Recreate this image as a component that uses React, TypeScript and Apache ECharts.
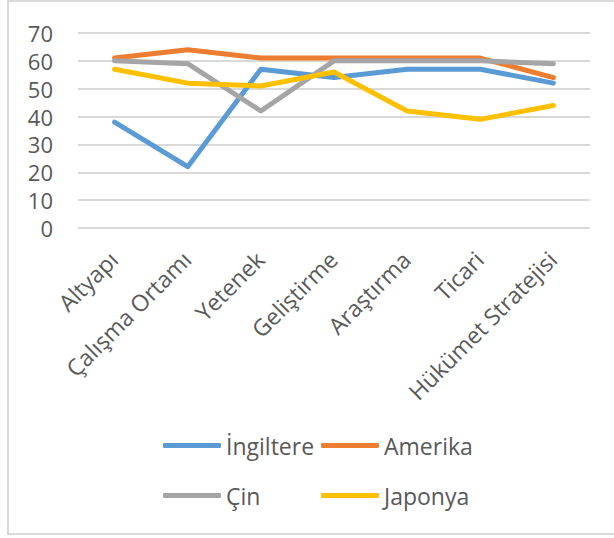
import React, { useEffect, useRef } from "react";
import * as echarts from "echarts";

const categories = ["Altyapı", "Çalışma Ortamı", "Yetenek", "Geliştirme", "Araştırma", "Ticari", "Hükümet Stratejisi"];
const seriesNames = ["İngiltere", "Amerika", "Çin", "Japonya"];
const ingiltere = [38, 22, 57, 54, 57, 57, 52];
const amerika = [61, 64, 61, 61, 61, 61, 54];
const cin = [60, 59, 42, 60, 60, 60, 59];
const japonya = [57, 52, 51, 56, 42, 39, 44];
const colors = ["#5B9BD5", "#ED7D31", "#A5A5A5", "#FFC000"];
const yTicks = [0, 70, 10];

export default function App() {
  const ref = useRef<HTMLDivElement>(null);
  useEffect(() => {
    const chart = echarts.init(ref.current!, undefined, { renderer: "svg" });
    const values = [ingiltere, amerika, cin, japonya];
    const font = "'Open Sans', sans-serif";
    const legendPos = [
      { left: 163, top: 434 },
      { left: 321, top: 434 },
      { left: 163, top: 484 },
      { left: 321, top: 484 },
    ];
    chart.setOption({
      animation: false,
      graphic: [
        {
          type: "rect",
          shape: { x: 8, y: 1, width: 640, height: 533 },
          style: { fill: "none", stroke: "#D9D9D9", lineWidth: 2 },
          z: -1,
        },
      ],
      grid: { left: 78, right: 24, top: 33, bottom: 310 },
      legend: seriesNames.map((n, i) => ({
        data: [n],
        left: legendPos[i].left,
        top: legendPos[i].top,
        padding: 0,
        icon: "roundRect",
        itemWidth: 58,
        itemHeight: 5,
        textStyle: { fontFamily: font, fontSize: 23, color: "#595959" },
      })),
      xAxis: {
        type: "category",
        data: categories,
        boundaryGap: true,
        axisLine: { show: false },
        axisTick: { show: false },
        axisLabel: {
          rotate: 45,
          interval: 0,
          margin: 10,
          verticalAlign: "top",
          padding: [0, 13, 0, 0],
          fontFamily: font,
          fontSize: 23,
          color: "#595959",
        },
      },
      yAxis: {
        type: "value",
        min: yTicks[0],
        max: yTicks[1],
        interval: yTicks[2],
        axisLine: { show: false },
        axisTick: { show: false },
        splitLine: { lineStyle: { color: "#D9D9D9", width: 2 } },
        axisLabel: { margin: 25, fontFamily: font, fontSize: 22, lineHeight: 22, color: "#595959" },
      },
      series: seriesNames.map((n, i) => ({
        name: n,
        type: "line",
        data: values[i],
        symbol: "none",
        lineStyle: { width: 5, color: colors[i], cap: "round", join: "round" },
        itemStyle: { color: colors[i] },
      })),
    });
    return () => chart.dispose();
  }, []);
  return (
    <div
      ref={ref}
      style={{ position: "fixed", left: 0, top: 0, width: 614, height: 538, background: "#fff" }}
    />
  );
}
